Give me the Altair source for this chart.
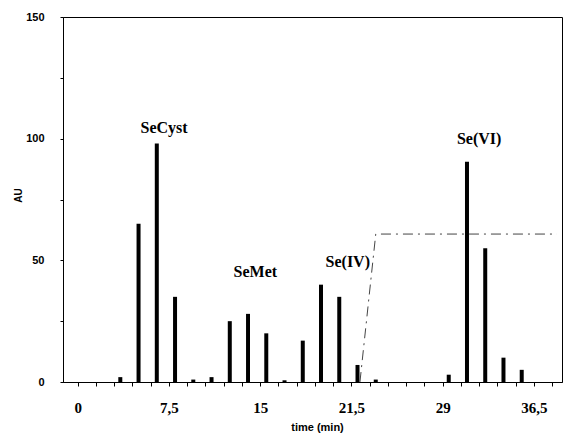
import altair as alt
import pandas as pd

# fraction times (min) and peak heights (AU)
times = [3.5, 5, 6.5, 8, 9.5, 11, 12.5, 14, 15.5, 17, 18.5, 20, 21.5, 23, 24.5,
         30.5, 32, 33.5, 35, 36.5]
au = [2, 65, 98, 35, 1, 2, 25, 28, 20, 0.7, 17, 40, 35, 7, 1,
      3, 90.5, 55, 10, 5]

# species annotations
names = ["SeCyst", "SeMet", "Se(IV)", "Se(VI)"]
name_t = [7.1, 14.6, 22.2, 33.0]
name_v = [104.5, 45.2, 49.3, 100.0]

# gradient line
grad_t = [23.2, 24.5, 39.4]
grad_v = [0, 60.8, 60.8]

# x tick labels
tick_pos = [0, 7.5, 15, 22.5, 30, 37.5]
tick_lab = ["0", "7,5", "15", "21,5", "29", "36,5"]

# y tick labels
y_lab = [0, 50, 100, 150]

bars = pd.DataFrame({"t": times, "au": au})
labels = pd.DataFrame({"name": names, "t": name_t, "v": name_v})
grad = pd.DataFrame({"t": grad_t, "v": grad_v, "o": list(range(len(grad_t)))})

expr = "''"
for p, l in reversed(list(zip(tick_pos, tick_lab))):
    expr = f"abs(datum.value - {p}) < 0.01 ? '{l}' : ({expr})"

x_ticks = [k * 1.5 for k in range(0, 27)]
y_ticks = [k * 25 for k in range(0, 7)]
y_expr = "indexof([" + ",".join(str(v) for v in y_lab) + "], datum.value) >= 0 ? datum.label : ''"

xscale = alt.Scale(domain=[-0.8, 39.4], nice=False, zero=False)
yscale = alt.Scale(domain=[0, 150], nice=False)

xaxis = alt.Axis(values=x_ticks, labelExpr=expr, title="time (min)",
                 labelFont="Liberation Serif", labelFontWeight="bold", labelFontSize=15,
                 labelColor="black", labelPadding=14, tickSize=4, tickColor="black",
                 domainColor="black", grid=False, labelOverlap=False, labelBound=False,
                 labelFlush=False,
                 titleFont="Liberation Sans", titleFontWeight="bold", titleFontSize=11,
                 titleColor="black", titleX=254, titleY=45, titleBaseline="middle",
                 titleAlign="center")
yaxis = alt.Axis(values=y_ticks, labelExpr=y_expr,
                 title="AU", labelFont="Liberation Sans",
                 labelFontWeight="bold", labelOverlap=False, labelFlush=False,
                 labelFontSize=11, labelColor="black", labelPadding=16, tickSize=3,
                 tickColor="black", domainColor="black", grid=False,
                 titleFont="Liberation Sans", titleFontWeight="bold", titleFontSize=10,
                 titleColor="black", titleX=-45, titleY=178, titleAngle=270,
                 titleBaseline="middle", titleAlign="center")

X = lambda f: alt.X(f, scale=xscale, axis=xaxis)
Y = lambda f: alt.Y(f, scale=yscale, axis=yaxis)

bar_layer = alt.Chart(bars).mark_bar(color="black", size=4).encode(
    x=X("t:Q"), y=Y("au:Q"),
)

line_layer = alt.Chart(grad).mark_line(color="#444444", strokeWidth=1,
                                       strokeDash=[10, 5, 2, 5]).encode(
    x=X("t:Q"), y=Y("v:Q"), order="o:Q",
)

text_layer = alt.Chart(labels).mark_text(font="Liberation Serif", fontWeight="bold",
                                         fontSize=16, color="black",
                                         baseline="middle", align="center").encode(
    x=X("t:Q"), y=Y("v:Q"), text="name:N",
)

chart = alt.layer(bar_layer, line_layer, text_layer).properties(
    width=499, height=365,
    autosize=alt.AutoSizeParams(type="none"),
    padding={"left": 63, "top": 17, "right": 2, "bottom": 54},
    background="white",
).configure_view(stroke="black", strokeWidth=1)

chart.save("out.html", embed_options={"renderer": "svg", "actions": False})
